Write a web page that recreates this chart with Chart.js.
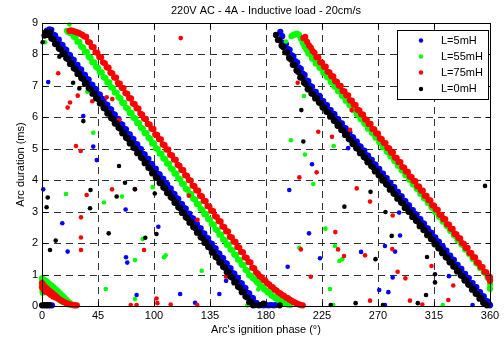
<!DOCTYPE html>
<html><head><meta charset="utf-8">
<script src="https://cdn.jsdelivr.net/npm/chart.js@4"></script>
<style>html,body{margin:0;padding:0;background:#fff}canvas{display:block}</style>
</head><body>
<canvas id="c" width="504" height="338"></canvas>
<script>
const chartTitle = '220V AC - 4A - Inductive load - 20cm/s';
const xTitle = "Arc's ignition phase (°)";
const yTitle = 'Arc duration (ms)';
const seriesNames = ['L=5mH', 'L=55mH', 'L=75mH', 'L=0mH'];
const seriesColors = ['#0000ff', '#00ff00', '#ff0000', '#000000'];
const xTickValues = [0, 45, 90, 135, 180, 225, 270, 315, 360];
const xTickLabels = ['0', '45', '100', '135', '180', '225', '270', '315', '360'];
const yTickValues = [0, 1, 2, 3, 4, 5, 6, 7, 8, 9];

// ---- L=5mH (blue) ----
const L5_sweep1 = [[4,8.76],[6,8.80],[7.5,8.78],[9,8.63],[10.5,8.61],[12,8.48],[13.5,8.47],[15,8.32],[16.5,8.30],[18,8.17],[19.5,8.15],[21,8.00],[22.5,7.98],[24,7.85],[25.5,7.83],[27,7.68],[28.5,7.67],[30,7.54],[31.5,7.52],[33,7.37],[34.5,7.35],[36,7.22],[37.5,7.20],[39,7.05],[40.5,7.03],[42,6.91],[43.5,6.89],[45,6.74],[46.5,6.72],[48,6.59],[49.5,6.57],[51,6.42],[52.5,6.40],[54,6.27],[55.5,6.25],[57,6.11],[58.5,6.09],[60,5.96],[61.5,5.94],[63,5.79],[64.5,5.77],[66,5.64],[67.5,5.62],[69,5.47],[70.5,5.46],[72,5.33],[73.5,5.31],[75,5.16],[76.5,5.14],[78,5.01],[79.5,4.99],[81,4.84],[82.5,4.82],[84,4.69],[85.5,4.68],[87,4.53],[88.5,4.51],[90,4.38],[91.5,4.36],[93,4.21],[94.5,4.19],[96,4.06],[97.5,4.04],[99,3.90],[100.5,3.88],[102,3.75],[103.5,3.73],[105,3.58],[106.5,3.56],[108,3.43],[109.5,3.41],[111,3.26],[112.5,3.24],[114,3.12],[115.5,3.10],[117,2.95],[118.5,2.93],[120,2.80],[121.5,2.78],[123,2.63],[124.5,2.61],[126,2.48],[127.5,2.47],[129,2.32],[130.5,2.30],[132,2.17],[133.5,2.15],[135,2.00],[136.5,1.98],[138,1.85],[139.5,1.83],[141,1.68],[142.5,1.67],[144,1.54],[145.5,1.52],[147,1.37],[148.5,1.35],[150,1.22],[151.5,1.20],[153,1.05],[154.5,1.03],[156,0.91],[157.5,0.89],[159,0.74],[160.5,0.72],[162,0.59],[163.5,0.57],[165,0.42],[166.5,0.40],[168,0.27],[169.5,0.25],[171,0.11],[172.5,0.09],[174,0.02],[176,0.03],[178,0.02],[180,0.03],[182,0.02],[184,0.03],[186,0.02],[188,0.03]];
const L5_sweep2 = [[191.5,8.72],[193,8.58],[194.5,8.37],[196,8.33],[197.5,8.18],[199,8.15],[200.5,7.98],[202,7.94],[203.5,7.79],[205,7.75],[206.5,7.58],[208,7.54],[209.5,7.39],[211,7.35],[212.5,7.18],[214,7.15],[215.5,7.00],[217,6.97],[218.5,6.82],[220,6.81],[221.5,6.69],[223,6.68],[224.5,6.53],[226,6.52],[227.5,6.40],[229,6.39],[230.5,6.24],[232,6.23],[233.5,6.11],[235,6.10],[236.5,5.96],[238,5.94],[239.5,5.82],[241,5.81],[242.5,5.67],[244,5.65],[245.5,5.53],[247,5.52],[248.5,5.38],[250,5.36],[251.5,5.24],[253,5.23],[254.5,5.09],[256,5.07],[257.5,4.95],[259,4.94],[260.5,4.80],[262,4.78],[263.5,4.66],[265,4.65],[266.5,4.51],[268,4.50],[269.5,4.37],[271,4.36],[272.5,4.22],[274,4.21],[275.5,4.08],[277,4.07],[278.5,3.93],[280,3.92],[281.5,3.79],[283,3.78],[284.5,3.64],[286,3.63],[287.5,3.50],[289,3.49],[290.5,3.35],[292,3.34],[293.5,3.22],[295,3.20],[296.5,3.06],[298,3.05],[299.5,2.93],[301,2.91],[302.5,2.77],[304,2.76],[305.5,2.64],[307,2.62],[308.5,2.48],[310,2.47],[311.5,2.35],[313,2.33],[314.5,2.19],[316,2.18],[317.5,2.06],[319,2.04],[320.5,1.90],[322,1.89],[323.5,1.77],[325,1.76],[326.5,1.61],[328,1.60],[329.5,1.48],[331,1.47],[332.5,1.32],[334,1.31],[335.5,1.19],[337,1.18],[338.5,1.03],[340,1.02],[341.5,0.90],[343,0.89],[344.5,0.74],[346,0.73],[347.5,0.61],[349,0.60],[350.5,0.45],[352,0.44],[353.5,0.32],[355,0.31],[356.5,0.17],[358,0.15],[359.5,0.05],[360,0.02],[2,0.02],[4,0.03],[6,0.02],[8,0.02]];
const L5_scatter = [[5,7.12],[33.2,6.04],[41.2,5.07],[44,4.64],[1,3.71],[16.3,2.63],[20.6,1.73],[67.2,3.07],[67.5,1.55],[68.5,1.38],[93.5,2.52],[76,0.35],[111,0.38],[123,0.1],[142.5,0.38],[147.9,0.8],[197.4,1.25],[217,4.51],[198.7,3.69],[287,2.97],[214.6,2.31],[287.7,2.24],[223.4,1.52],[256.4,1.72],[275.6,1.91],[271,0.51],[278.3,0.44],[281.8,0.91],[327,0.95],[346,0.03],[246,5.02],[283.7,1.73],[275.6,0.03]];

// ---- L=55mH (green) ----
const L55_sweep1 = [[20,8.75],[21.5,8.70],[23,8.68],[24,8.72],[25.5,8.57],[27,8.54],[28.5,8.40],[30,8.40],[31.5,8.25],[33,8.22],[34.5,8.08],[36,8.08],[37.5,7.93],[39,7.89],[40.5,7.75],[42,7.75],[43.5,7.60],[45,7.57],[46.5,7.43],[48,7.43],[49.5,7.28],[51,7.25],[52.5,7.11],[54,7.11],[55.5,6.96],[57,6.93],[58.5,6.79],[60,6.79],[61.5,6.64],[63,6.60],[64.5,6.46],[66,6.46],[67.5,6.31],[69,6.28],[70.5,6.14],[72,6.14],[73.5,5.99],[75,5.96],[76.5,5.82],[78,5.82],[79.5,5.67],[81,5.64],[82.5,5.50],[84,5.50],[85.5,5.35],[87,5.32],[88.5,5.17],[90,5.17],[91.5,5.02],[93,4.99],[94.5,4.85],[96,4.85],[97.5,4.70],[99,4.67],[100.5,4.53],[102,4.53],[103.5,4.38],[105,4.35],[106.5,4.21],[108,4.21],[109.5,4.06],[111,4.03],[112.5,3.89],[114,3.88],[115.5,3.73],[117,3.70],[118.5,3.56],[120,3.56],[121.5,3.41],[123,3.38],[124.5,3.24],[126,3.24],[127.5,3.09],[129,3.06],[130.5,2.92],[132,2.92],[133.5,2.77],[135,2.74],[136.5,2.60],[138,2.59],[139.5,2.44],[141,2.41],[142.5,2.27],[144,2.27],[145.5,2.12],[147,2.09],[148.5,1.95],[150,1.95],[151.5,1.80],[153,1.77],[154.5,1.63],[156,1.63],[157.5,1.48],[159,1.45],[160.5,1.31],[162,1.31],[163.5,1.15],[165,1.12],[166.5,0.98],[168,0.96],[169.5,0.88],[171,0.85],[172.5,0.76],[174,0.73],[175.5,0.64],[177,0.62],[178.5,0.53],[180,0.50],[181.5,0.43],[183,0.41],[184.5,0.33],[186,0.30],[187.5,0.25],[189,0.23],[190.5,0.17],[192,0.16],[193.5,0.11],[195,0.10],[196.5,0.06],[198,0.05],[199.5,0.03]];
const L55_sweep2 = [[200.5,8.58],[202,8.62],[203.5,8.64],[205,8.66],[206.5,8.62],[208,8.50],[209.5,8.36],[211,8.25],[212.5,8.15],[214,8.03],[215.5,8.01],[217,7.87],[218.5,7.85],[220,7.71],[221.5,7.72],[223,7.58],[224.5,7.55],[226,7.42],[227.5,7.42],[229,7.28],[230.5,7.26],[232,7.12],[233.5,7.13],[235,6.98],[236.5,6.96],[238,6.83],[239.5,6.83],[241,6.69],[242.5,6.66],[244,6.53],[245.5,6.54],[247,6.39],[248.5,6.37],[250,6.23],[251.5,6.24],[253,6.10],[254.5,6.07],[256,5.94],[257.5,5.94],[259,5.80],[260.5,5.78],[262,5.64],[263.5,5.65],[265,5.51],[266.5,5.48],[268,5.35],[269.5,5.35],[271,5.21],[272.5,5.19],[274,5.05],[275.5,5.06],[277,4.91],[278.5,4.89],[280,4.76],[281.5,4.76],[283,4.62],[284.5,4.59],[286,4.46],[287.5,4.47],[289,4.32],[290.5,4.30],[292,4.16],[293.5,4.17],[295,4.03],[296.5,4.00],[298,3.87],[299.5,3.87],[301,3.73],[302.5,3.71],[304,3.57],[305.5,3.58],[307,3.43],[308.5,3.41],[310,3.28],[311.5,3.28],[313,3.14],[314.5,3.11],[316,2.98],[317.5,2.99],[319,2.84],[320.5,2.82],[322,2.69],[323.5,2.69],[325,2.55],[326.5,2.52],[328,2.39],[329.5,2.40],[331,2.25],[332.5,2.23],[334,2.09],[335.5,2.10],[337,1.96],[338.5,1.93],[340,1.80],[341.5,1.80],[343,1.66],[344.5,1.64],[346,1.50],[347.5,1.51],[349,1.36],[350.5,1.34],[352,1.21],[353.5,1.21],[355,1.07],[356.5,1.04],[358,0.91],[359.5,0.92],[360,0.80],[360,0.68],[360,0.55]];
const L55_wrap = [[0,0.88],[0,0.75],[0,0.62],[0.5,0.5],[0.5,0.42],[1.5,0.84],[3,0.8],[4.5,0.75],[6,0.7],[7.5,0.66],[9,0.6],[10.5,0.55],[12,0.5],[13.5,0.44],[15,0.38],[16.5,0.32],[18,0.26],[19.5,0.2],[21,0.14],[22.5,0.09],[24,0.05],[2,0.55],[3.5,0.5],[5,0.45],[6.5,0.4],[8,0.36],[9.5,0.32],[11,0.28],[12.5,0.24],[14,0.2],[15.5,0.16],[17,0.13],[18.5,0.1],[20,0.07],[21.5,0.05],[25.5,0.03],[1.5,0.68],[3,0.62],[4.5,0.58]];
const L55_scatter = [[22,8.95],[2.4,8.39],[196,8.41],[41.2,5.51],[19.3,3.56],[49.8,3.29],[64.3,3.48],[74.7,1.46],[80.9,2.13],[89,3.78],[98,1.55],[99.4,1.61],[128.3,1.12],[51.2,0.54],[74.7,0.22],[173.8,0.53],[165,0.02],[231.4,0.54],[234,0.03],[322,0.03],[211.3,4.82],[218,3.88],[227.7,2.46],[206.8,1.85],[235.5,1.91],[241.3,1.49],[239,1.43],[210.5,6.68],[224.5,6.36],[200,5.27],[234.4,5.09],[36.4,6.81]];

// ---- L=75mH (red) ----
const L75_sweep1 = [[22,8.75],[23.5,8.77],[25,8.74],[26.5,8.73],[28,8.70],[29.5,8.69],[31,8.65],[32.5,8.62],[34,8.57],[35.5,8.56],[37,8.40],[38.5,8.38],[40,8.24],[41.5,8.23],[43,8.07],[44.5,8.05],[46,7.92],[47.5,7.91],[49,7.75],[50.5,7.72],[52,7.59],[53.5,7.58],[55,7.42],[56.5,7.40],[58,7.27],[59.5,7.26],[61,7.09],[62.5,7.07],[64,6.94],[65.5,6.93],[67,6.77],[68.5,6.75],[70,6.61],[71.5,6.60],[73,6.44],[74.5,6.42],[76,6.29],[77.5,6.28],[79,6.12],[80.5,6.09],[82,5.96],[83.5,5.95],[85,5.79],[86.5,5.77],[88,5.64],[89.5,5.63],[91,5.46],[92.5,5.44],[94,5.31],[95.5,5.30],[97,5.14],[98.5,5.12],[100,4.98],[101.5,4.97],[103,4.81],[104.5,4.79],[106,4.66],[107.5,4.65],[109,4.49],[110.5,4.46],[112,4.33],[113.5,4.32],[115,4.16],[116.5,4.14],[118,4.01],[119.5,3.99],[121,3.83],[122.5,3.81],[124,3.68],[125.5,3.67],[127,3.51],[128.5,3.49],[130,3.35],[131.5,3.34],[133,3.18],[134.5,3.16],[136,3.03],[137.5,3.02],[139,2.86],[140.5,2.83],[142,2.70],[143.5,2.69],[145,2.53],[146.5,2.51],[148,2.38],[149.5,2.37],[151,2.20],[152.5,2.18],[154,2.05],[155.5,2.04],[157,1.88],[158.5,1.86],[160,1.72],[161.5,1.71],[163,1.55],[164.5,1.53],[166,1.40],[167.5,1.39],[169,1.22],[170.5,1.20],[172,1.07],[173.5,1.02],[175,0.94],[176.5,0.91],[178,0.83],[179.5,0.80],[181,0.72],[182.5,0.69],[184,0.62],[185.5,0.59],[187,0.52],[188.5,0.49],[190,0.43],[191.5,0.40],[193,0.35],[194.5,0.32],[196,0.27],[197.5,0.25],[199,0.20],[200.5,0.17],[202,0.13],[203.5,0.11],[205,0.07],[206.5,0.05],[208,0.03],[209.5,0.02]];
const L75_sweep2 = [[210,8.52],[211.5,8.56],[213,8.40],[214.5,8.29],[216,8.22],[217.5,8.11],[219,8.05],[220.5,7.91],[222,7.91],[223.5,7.75],[225,7.74],[226.5,7.61],[228,7.61],[229.5,7.45],[231,7.43],[232.5,7.31],[234,7.30],[235.5,7.15],[237,7.13],[238.5,7.01],[240,7.00],[241.5,6.84],[243,6.83],[244.5,6.70],[246,6.70],[247.5,6.54],[249,6.53],[250.5,6.40],[252,6.39],[253.5,6.24],[255,6.22],[256.5,6.10],[258,6.09],[259.5,5.94],[261,5.92],[262.5,5.79],[264,5.79],[265.5,5.63],[267,5.62],[268.5,5.49],[270,5.48],[271.5,5.33],[273,5.31],[274.5,5.19],[276,5.18],[277.5,5.03],[279,5.01],[280.5,4.88],[282,4.88],[283.5,4.72],[285,4.71],[286.5,4.58],[288,4.58],[289.5,4.42],[291,4.40],[292.5,4.28],[294,4.27],[295.5,4.12],[297,4.10],[298.5,3.98],[300,3.97],[301.5,3.81],[303,3.80],[304.5,3.67],[306,3.67],[307.5,3.51],[309,3.50],[310.5,3.37],[312,3.36],[313.5,3.21],[315,3.19],[316.5,3.07],[318,3.06],[319.5,2.91],[321,2.89],[322.5,2.76],[324,2.76],[325.5,2.60],[327,2.59],[328.5,2.46],[330,2.45],[331.5,2.30],[333,2.28],[334.5,2.16],[336,2.15],[337.5,2.00],[339,1.98],[340.5,1.85],[342,1.85],[343.5,1.69],[345,1.68],[346.5,1.55],[348,1.55],[349.5,1.39],[351,1.37],[352.5,1.25],[354,1.24],[355.5,1.09],[357,1.07],[358.5,0.95],[359.5,0.85],[360,0.92],[360,0.80]];
const L75_wrap = [[0,0.73],[0,0.6],[1,0.68],[1.5,0.5],[2.5,0.6],[3,0.45],[4,0.55],[5,0.42],[5.5,0.5],[7,0.45],[7,0.36],[8.5,0.4],[9,0.3],[10,0.35],[11,0.27],[11.5,0.3],[13,0.24],[14.5,0.2],[16,0.16],[17.5,0.13],[19,0.1],[20.5,0.08],[22,0.06],[23.5,0.04],[25,0.03],[26.5,0.02],[28,0.02]];
const L75_scatter = [[111.5,8.52],[13,7.4],[28.7,6.69],[22.5,6.47],[20.6,6.31],[40.4,6.51],[52,6.64],[56.5,6.58],[61.9,5.92],[27.3,5.09],[31.1,4.93],[31.3,2.82],[31.3,2.18],[31.3,1.78],[35.9,3.53],[56.3,3.71],[74.5,3.72],[82,1.78],[125,2.74],[118,3.51],[71.3,0.03],[76,0.03],[92,0.24],[92.7,0.09],[103.4,0.05],[124.8,0.03],[147.9,0.93],[216,0.93],[263.6,0.17],[285.8,1.09],[292,0.88],[295.7,0.17],[305.6,0.05],[313,1.27],[326.5,0.19],[220.7,4.25],[206.8,4.09],[252.9,3.74],[263.6,3.32],[281.8,2.88],[235.7,2.35],[208,1.8],[237.9,1.8],[242.7,1.59],[259.6,1.61],[281.5,1.81],[330.5,0.65],[205.5,7.1],[222,5.54],[233,5.38],[247.5,5.6],[248.8,6.23]];

// ---- L=0mH (black) ----
const L0_sweep1 = [[2,8.6],[4,8.7],[5,8.62],[6.5,8.72],[3,8.70],[4.5,8.65],[6,8.66],[7.5,8.51],[9,8.48],[10.5,8.33],[12,8.34],[13.5,8.19],[15,8.16],[16.5,8.01],[18,8.03],[19.5,7.88],[21,7.85],[22.5,7.70],[24,7.71],[25.5,7.56],[27,7.53],[28.5,7.38],[30,7.39],[31.5,7.25],[33,7.22],[34.5,7.07],[36,7.08],[37.5,6.93],[39,6.90],[40.5,6.75],[42,6.76],[43.5,6.61],[45,6.58],[46.5,6.44],[48,6.45],[49.5,6.30],[51,6.27],[52.5,6.12],[54,6.13],[55.5,5.98],[57,5.95],[58.5,5.80],[60,5.81],[61.5,5.67],[63,5.64],[64.5,5.49],[66,5.50],[67.5,5.35],[69,5.32],[70.5,5.17],[72,5.18],[73.5,5.03],[75,5.01],[76.5,4.86],[78,4.87],[79.5,4.72],[81,4.69],[82.5,4.54],[84,4.55],[85.5,4.40],[87,4.37],[88.5,4.22],[90,4.24],[91.5,4.09],[93,4.06],[94.5,3.91],[96,3.92],[97.5,3.77],[99,3.74],[100.5,3.59],[102,3.60],[103.5,3.46],[105,3.43],[106.5,3.28],[108,3.29],[109.5,3.14],[111,3.11],[112.5,2.96],[114,2.97],[115.5,2.82],[117,2.79],[118.5,2.65],[120,2.66],[121.5,2.51],[123,2.48],[124.5,2.33],[126,2.34],[127.5,2.19],[129,2.16],[130.5,2.01],[132,2.03],[133.5,1.88],[135,1.85],[136.5,1.70],[138,1.71],[139.5,1.56],[141,1.53],[142.5,1.38],[144,1.39],[145.5,1.25],[147,1.22],[148.5,1.07],[150,1.08],[151.5,0.93],[153,0.90],[154.5,0.75],[156,0.76],[157.5,0.61],[159,0.58],[160.5,0.44],[162,0.45],[163.5,0.30],[165,0.27],[166.5,0.12],[168,0.13],[169.5,0.02],[171,0.03],[175,0.03],[178,0.08],[191,0.02]];
const L0_sweep2 = [[188,8.62],[189.5,8.46],[191,8.45],[192.5,8.28],[194,8.23],[195.5,8.07],[197,8.06],[198.5,7.89],[200,7.84],[201.5,7.67],[203,7.66],[204.5,7.49],[206,7.44],[207.5,7.27],[209,7.26],[210.5,7.10],[212,7.05],[213.5,6.89],[215,6.90],[216.5,6.76],[218,6.74],[219.5,6.60],[221,6.61],[222.5,6.47],[224,6.45],[225.5,6.31],[227,6.32],[228.5,6.18],[230,6.16],[231.5,6.02],[233,6.04],[234.5,5.89],[236,5.87],[237.5,5.73],[239,5.75],[240.5,5.60],[242,5.58],[243.5,5.44],[245,5.46],[246.5,5.31],[248,5.29],[249.5,5.15],[251,5.17],[252.5,5.02],[254,5.00],[255.5,4.86],[257,4.88],[258.5,4.74],[260,4.71],[261.5,4.57],[263,4.59],[264.5,4.45],[266,4.42],[267.5,4.28],[269,4.30],[270.5,4.16],[272,4.13],[273.5,3.99],[275,4.01],[276.5,3.87],[278,3.84],[279.5,3.70],[281,3.72],[282.5,3.58],[284,3.55],[285.5,3.41],[287,3.43],[288.5,3.29],[290,3.27],[291.5,3.12],[293,3.14],[294.5,3.00],[296,2.98],[297.5,2.83],[299,2.85],[300.5,2.71],[302,2.69],[303.5,2.54],[305,2.56],[306.5,2.42],[308,2.40],[309.5,2.25],[311,2.27],[312.5,2.13],[314,2.11],[315.5,1.96],[317,1.98],[318.5,1.84],[320,1.82],[321.5,1.68],[323,1.69],[324.5,1.55],[326,1.53],[327.5,1.39],[329,1.40],[330.5,1.26],[332,1.24],[333.5,1.10],[335,1.11],[336.5,0.97],[338,0.95],[339.5,0.81],[341,0.82],[342.5,0.68],[344,0.66],[345.5,0.52],[347,0.53],[348.5,0.39],[350,0.37],[351.5,0.23],[353,0.25],[354.5,0.10],[356,0.08],[357.5,0.02],[0,0.02],[2,0.03],[4,0.02],[6,0.03]];
const L0_scatter = [[0.5,8.39],[14,7.93],[25,7.1],[30,6.92],[33.2,5.88],[61.9,4.45],[4.6,3.45],[3.7,3.14],[6.4,1.78],[11,2.08],[39,3.69],[38.6,3.11],[53.6,2.31],[60,3.48],[66.7,3.92],[74.7,3.71],[83,2.17],[90.6,3.58],[92,2.29],[232,0.03],[252,0.09],[274,0.03],[302,0.09],[308.6,0.35],[315.8,1.01],[315.8,0.75],[264,3.63],[243,3.16],[276,2.99],[281,2.23],[268,1.49],[309.4,1.56],[356,3.82],[208.4,6.23],[210,5.23]];

const seriesBands = [
  [...L5_sweep1, ...L5_sweep2],
  [...L55_sweep1, ...L55_sweep2, ...L55_wrap],
  [...L75_sweep1, ...L75_sweep2, ...L75_wrap],
  [...L0_sweep1, ...L0_sweep2]
];
const seriesScatter = [L5_scatter, L55_scatter, L75_scatter, L0_scatter];
const drawOrder = [4, 3, 2, 1];

const FONT = '"Liberation Sans", Arial, Helvetica, sans-serif';
Chart.defaults.font.family = FONT;
Chart.defaults.font.size = 11;
Chart.defaults.color = '#000';

const decor = {
  id: 'decor',
  beforeDatasetsDraw(chart) {
    const {ctx, chartArea: a, scales: {x, y}} = chart;
    ctx.save();
    ctx.strokeStyle = '#333';
    ctx.lineWidth = 1;
    ctx.setLineDash([7, 5]);
    xTickValues.forEach(v => {
      if (v === 0 || v === 360) return;
      const px = Math.round(x.getPixelForValue(v)) + 0.5;
      ctx.beginPath(); ctx.moveTo(px, a.bottom); ctx.lineTo(px, a.top); ctx.stroke();
    });
    yTickValues.forEach(v => {
      if (v === 0 || v === 9) return;
      const py = Math.round(y.getPixelForValue(v)) + 0.5;
      ctx.beginPath(); ctx.moveTo(a.left, py); ctx.lineTo(a.right, py); ctx.stroke();
    });
    ctx.restore();
  },
  afterDatasetsDraw(chart) {
    const {ctx, chartArea: a, scales: {x, y}} = chart;
    ctx.save();
    ctx.strokeStyle = '#000';
    ctx.lineWidth = 1;
    const L = Math.round(a.left) + 0.5, R = Math.round(a.right) + 0.5;
    const T = Math.round(a.top) + 0.5, B = Math.round(a.bottom) + 0.5;
    ctx.strokeRect(L, T, R - L, B - T);
    const tl = 5;
    ctx.beginPath();
    xTickValues.forEach(v => {
      const px = Math.round(x.getPixelForValue(v)) + 0.5;
      ctx.moveTo(px, B); ctx.lineTo(px, B - tl);
      ctx.moveTo(px, T); ctx.lineTo(px, T + tl);
    });
    yTickValues.forEach(v => {
      const py = Math.round(y.getPixelForValue(v)) + 0.5;
      ctx.moveTo(L, py); ctx.lineTo(L + tl, py);
      ctx.moveTo(R, py); ctx.lineTo(R - tl, py);
    });
    ctx.stroke();

    ctx.fillStyle = '#000';
    ctx.font = '11px ' + FONT;
    ctx.textAlign = 'center';
    ctx.textBaseline = 'middle';
    ctx.fillText(chartTitle, (a.left + a.right) / 2, 11);
    ctx.fillText(xTitle, (a.left + a.right) / 2, 330);
    ctx.save();
    ctx.translate(21, (a.top + a.bottom) / 2);
    ctx.rotate(-Math.PI / 2);
    ctx.fillText(yTitle, 0, 0);
    ctx.restore();

    const lx = 397.5, ly = 30.5, lw = 91, lh = 69;
    ctx.fillStyle = '#fff';
    ctx.fillRect(lx, ly, lw, lh);
    ctx.strokeRect(lx, ly, lw, lh);
    const rows = [40.5, 56.5, 72.5, 89];
    ctx.textAlign = 'left';
    seriesNames.forEach((n, i) => {
      ctx.fillStyle = seriesColors[i];
      ctx.beginPath(); ctx.arc(421, rows[i], 2.2, 0, Math.PI * 2); ctx.fill();
      ctx.fillStyle = '#000';
      ctx.fillText(n, 441, rows[i]);
    });
    ctx.restore();
  }
};

new Chart(document.getElementById('c'), {
  type: 'scatter',
  data: {
    datasets: seriesNames.map((n, i) => ({
      label: n,
      data: [
        ...seriesBands[i].map(p => ({x: p[0], y: p[1], band: true})),
        ...seriesScatter[i].map(p => ({x: p[0], y: p[1], band: false}))
      ],
      backgroundColor: seriesColors[i],
      borderColor: seriesColors[i],
      pointRadius: c => (c.raw && c.raw.band) ? 3.1 : 2.3,
      pointBorderWidth: 0,
      pointHoverRadius: c => (c.raw && c.raw.band) ? 3.1 : 2.3,
      order: drawOrder[i],
      clip: false
    }))
  },
  options: {
    responsive: false,
    animation: false,
    devicePixelRatio: 1,
    layout: {padding: {top: 23, right: 14, left: 0, bottom: 0}},
    plugins: {legend: {display: false}, tooltip: {enabled: false}, title: {display: false}},
    scales: {
      x: {
        type: 'linear', min: 0, max: 360,
        afterBuildTicks: s => { s.ticks = xTickValues.map(v => ({value: v})); },
        afterFit: s => { s.height = 32; },
        ticks: {
          autoSkip: false, maxRotation: 0, padding: 3,
          callback: (v) => { const i = xTickValues.indexOf(v); return i >= 0 ? xTickLabels[i] : ''; }
        },
        grid: {display: false, drawTicks: false},
        border: {display: false}
      },
      y: {
        type: 'linear', min: 0, max: 9,
        afterBuildTicks: s => { s.ticks = yTickValues.map(v => ({value: v})); },
        afterFit: s => { s.width = 42; },
        ticks: {padding: 4},
        grid: {display: false, drawTicks: false},
        border: {display: false}
      }
    }
  },
  plugins: [decor]
});
</script>
</body></html>
